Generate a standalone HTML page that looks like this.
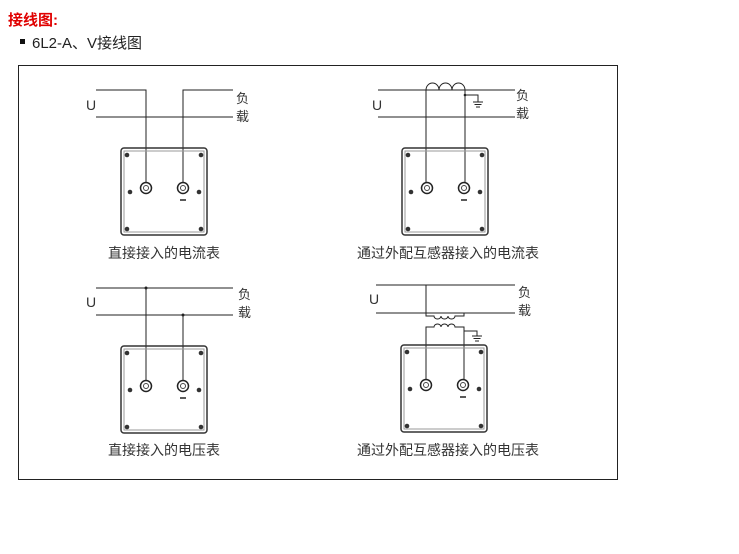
<!DOCTYPE html>
<html><head><meta charset="utf-8"><style>
body{margin:0;background:#fff;width:739px;height:549px;overflow:hidden}
</style></head><body>
<svg width="739" height="549" xmlns="http://www.w3.org/2000/svg" font-family="Liberation Sans, Noto Sans CJK SC, sans-serif">
<text x="8" y="25" font-size="15" font-weight="bold" fill="#e00000">接线图:</text>
<rect x="20" y="39" width="5" height="5" fill="#111"/>
<text x="32" y="48" font-size="15" fill="#222">6L2-A、V接线图</text>
<rect x="18.5" y="65.5" width="599" height="414" fill="none" stroke="#222" stroke-width="1"/>
<defs>
<g id="box">
<rect x="0" y="0" width="86" height="87" rx="3" fill="none" stroke="#333" stroke-width="1.5"/>
<rect x="3" y="3" width="80" height="81" fill="none" stroke="#999" stroke-width="1"/>
<circle cx="6" cy="7" r="2.3" fill="#333"/><circle cx="80" cy="7" r="2.3" fill="#333"/>
<circle cx="9" cy="44" r="2.3" fill="#333"/><circle cx="78" cy="44" r="2.3" fill="#333"/>
<circle cx="6" cy="81" r="2.3" fill="#333"/><circle cx="80" cy="81" r="2.3" fill="#333"/>
<circle cx="25" cy="40" r="5.5" fill="#fff" stroke="#222" stroke-width="1.5"/><circle cx="25" cy="40" r="2.5" fill="none" stroke="#444"/>
<circle cx="62" cy="40" r="5.5" fill="#fff" stroke="#222" stroke-width="1.5"/><circle cx="62" cy="40" r="2.5" fill="none" stroke="#444"/>
<line x1="59" y1="52" x2="65" y2="52" stroke="#222" stroke-width="1.5"/>
</g>
<g id="gnd" stroke="#222" stroke-width="1">
<line x1="-5" y1="0" x2="5" y2="0"/><line x1="-3.5" y1="2.5" x2="3.5" y2="2.5"/><line x1="-2" y1="5" x2="2" y2="5"/>
</g>
</defs>
<g stroke="#222" stroke-width="1" fill="none">
<!-- panel1 -->
<polyline points="96,90 146,90 146,188"/>
<polyline points="233,90 183,90 183,188"/>
<line x1="96" y1="117" x2="233" y2="117"/>
<!-- panel2 -->
<line x1="378" y1="90" x2="515" y2="90"/>
<line x1="378" y1="117" x2="515" y2="117"/>
<path d="M426,188 V90 a6.5,7 0 0 1 13,0 a6.5,7 0 0 1 13,0 a6.5,7 0 0 1 13,0 V188"/>
<polyline points="465,95 478,95 478,102"/>
<!-- panel3 -->
<line x1="96" y1="288" x2="233" y2="288"/>
<line x1="96" y1="315" x2="233" y2="315"/>
<line x1="146" y1="288" x2="146" y2="386"/>
<line x1="183" y1="315" x2="183" y2="386"/>
<!-- panel4 -->
<line x1="376" y1="285" x2="515" y2="285"/>
<line x1="376" y1="313" x2="515" y2="313"/>
<path d="M426,285 V316 H434 a3.5,3 0 0 0 7,0 a3.5,3 0 0 0 7,0 a3.5,3 0 0 0 7,0 H464 V313"/>
<path d="M426,384 V327 H434 a3.5,3 0 0 1 7,0 a3.5,3 0 0 1 7,0 a3.5,3 0 0 1 7,0 H464 V384"/>
<polyline points="464,331 477,331 477,336"/>
</g>
<circle cx="465" cy="95" r="1.3" fill="#222"/>
<circle cx="146" cy="288" r="1.5" fill="#222"/><circle cx="183" cy="315" r="1.5" fill="#222"/>
<use href="#gnd" x="478" y="102"/>
<use href="#gnd" x="477" y="336"/>
<use href="#box" x="121" y="148"/>
<use href="#box" x="402" y="148"/>
<use href="#box" x="121" y="346"/>
<use href="#box" x="401" y="345"/>
<g font-size="13" fill="#333">
<text x="86" y="110" font-size="14">U</text><text x="236" y="103">负</text><text x="236" y="121">载</text>
<text x="372" y="110" font-size="14">U</text><text x="516" y="100">负</text><text x="516" y="118">载</text>
<text x="86" y="307" font-size="14">U</text><text x="238" y="299">负</text><text x="238" y="317">载</text>
<text x="369" y="304" font-size="14">U</text><text x="518" y="297">负</text><text x="518" y="315">载</text>
</g>
<g font-size="14" fill="#333" text-anchor="middle">
<text x="164" y="258">直接接入的电流表</text>
<text x="448" y="258">通过外配互感器接入的电流表</text>
<text x="164" y="455">直接接入的电压表</text>
<text x="448" y="455">通过外配互感器接入的电压表</text>
</g>
</svg>
</body></html>
